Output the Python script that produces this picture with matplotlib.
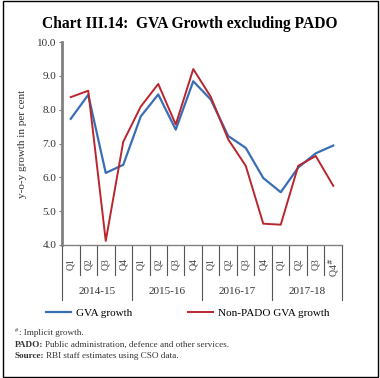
import matplotlib
matplotlib.use("Agg")
import matplotlib.pyplot as plt
from matplotlib.patches import Rectangle

plt.rcParams['font.family'] = ['Liberation Serif', 'DejaVu Serif']

quarters = ['Q1', 'Q2', 'Q3', 'Q4'] * 3 + ['Q1', 'Q2', 'Q3', 'Q4$^{\\#}$']
years = ['2014-15', '2015-16', '2016-17', '2017-18']
gva = [7.73, 8.44, 6.13, 6.37, 7.80, 8.45, 7.41, 8.84,
       8.30, 7.22, 6.87, 5.98, 5.56, 6.29, 6.71, 6.94]
non_pado = [8.37, 8.56, 4.12, 7.05, 8.09, 8.76, 7.56, 9.20,
            8.38, 7.12, 6.34, 4.63, 4.60, 6.34, 6.63, 5.75]

W, H = 380, 378
fig = plt.figure(figsize=(W / 100, H / 100), dpi=100)
ax = fig.add_axes([62 / W, 1 - 245 / H, 280 / W, 203 / H])

x = list(range(len(gva)))
ax.plot(x, gva, color='#3a6eb4', lw=1.6, label='GVA growth')
ax.plot(x, non_pado, color='#b8262e', lw=1.4, label='Non-PADO GVA growth')

ax.set_xlim(-0.5, len(gva) - 0.5)
ax.set_ylim(4, 10)
ax.set_yticks([4, 5, 6, 7, 8, 9, 10])
ax.set_yticklabels(['%.1f' % v for v in [4, 5, 6, 7, 8, 9, 10]])
ax.tick_params(axis='y', length=2.5, width=0.8, color='#808080', pad=1.5,
               labelsize=8, labelcolor='#333333')
ax.set_xticks(x)
ax.set_xticklabels(quarters, rotation=90, fontsize=7, color='#444444')
ax.tick_params(axis='x', length=0, pad=9.5)

for s in ['top', 'right']:
    ax.spines[s].set_visible(False)
ax.spines['left'].set_color('#808080')
ax.spines['left'].set_linewidth(2)
ax.spines['bottom'].set_color('#808080')
ax.spines['bottom'].set_linewidth(1)

ax.set_ylabel('y-o-y growth in per cent', fontsize=8, color='#333333', labelpad=7)

# separators under the x axis
trans = ax.get_xaxis_transform()
for i in range(len(gva) + 1):
    xs = i - 0.5
    bottom = -55 / 203 if i % 4 == 0 else -30 / 203
    ax.plot([xs, xs], [0, bottom], color='#555555', lw=0.8,
            transform=trans, clip_on=False)
for j, yr in enumerate(years):
    ax.text(j * 4 + 1.5, -47 / 203, yr, transform=trans, ha='center',
            va='center', fontsize=8, color='#333333')

fig.text(0.5, 1 - 24 / H, 'Chart III.14:  GVA Growth excluding PADO',
         ha='center', va='center', fontsize=11.2, fontweight='bold')

ax.legend(loc='center', bbox_to_anchor=(188 / W, 1 - 313 / H),
          bbox_transform=fig.transFigure, ncol=2, frameon=False,
          fontsize=8, handlelength=2.2, columnspacing=5, handletextpad=0.5)

fig.text(15 / W, 1 - 333 / H, '#', fontsize=4.5, va='bottom', color='#333333')
fig.text(19 / W, 1 - 333 / H, ': Implicit growth.', fontsize=6.6,
         va='center', color='#333333')

r = fig.canvas.get_renderer()
t1 = fig.text(15 / W, 1 - 345 / H, 'PADO:', fontsize=6.6, fontweight='bold',
              va='center', color='#333333')
bb = t1.get_window_extent(renderer=r)
fig.text((bb.x1 + 2) / W, 1 - 345 / H,
         'Public administration, defence and other services.',
         fontsize=6.6, va='center', color='#333333')
t2 = fig.text(15 / W, 1 - 356 / H, 'Source:', fontsize=6.6, fontweight='bold',
              va='center', color='#333333')
bb = t2.get_window_extent(renderer=r)
fig.text((bb.x1 + 2) / W, 1 - 356 / H, 'RBI staff estimates using CSO data.',
         fontsize=6.6, va='center', color='#333333')

fig.patches.append(Rectangle((2.5 / W, 1 / H), 375.5 / W, 376 / H,
                             transform=fig.transFigure, fill=False,
                             edgecolor='black', lw=1))

fig.savefig('out.png', dpi=100)
